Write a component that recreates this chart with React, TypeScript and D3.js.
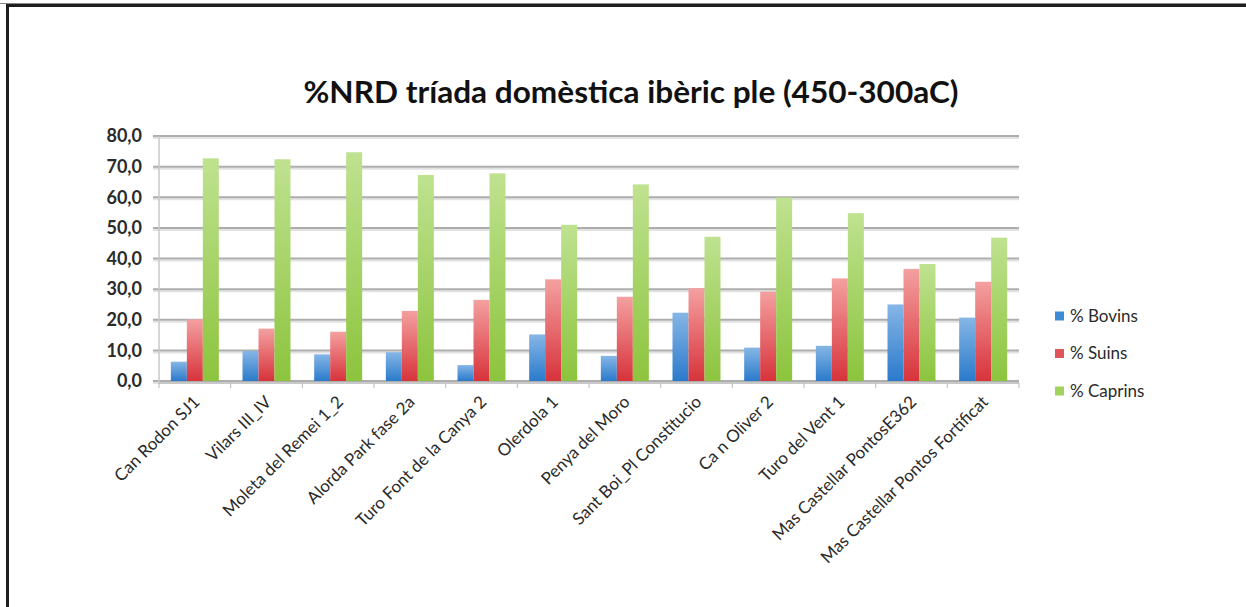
import React from "react";
import * as d3 from "d3";

const categories = [
  "Can Rodon SJ1",
  "Vilars III_IV",
  "Moleta del Remei 1_2",
  "Alorda Park fase 2a",
  "Turo Font de la Canya 2",
  "Olerdola 1",
  "Penya del Moro",
  "Sant Boi_Pl Constitucio",
  "Ca n Oliver 2",
  "Turo del Vent 1",
  "Mas Castellar PontosE362",
  "Mas Castellar Pontos Fortificat",
];
const bovins = [6.3, 9.8, 8.7, 9.4, 5.2, 15.2, 8.2, 22.3, 10.9, 11.5, 25.0, 20.7];
const suins = [20.1, 17.1, 16.1, 22.9, 26.5, 33.2, 27.5, 30.3, 29.2, 33.5, 36.6, 32.4];
const caprins = [72.7, 72.4, 74.7, 67.3, 67.8, 51.0, 64.2, 47.1, 59.9, 54.8, 38.2, 46.8];
const seriesNames = ["% Bovins", "% Suins", "% Caprins"];
const yTicks = [0, 10, 20, 30, 40, 50, 60, 70, 80];
const title = "%NRD tríada domèstica ibèric ple (450-300aC)";

const seriesData = [bovins, suins, caprins];
const grads = [
  { id: "gB", top: "#86b6e6", bot: "#2a7acb", legend: "#3d8ad6" },
  { id: "gS", top: "#f4a0a0", bot: "#d7333b", legend: "#e0555c" },
  { id: "gC", top: "#bfe290", bot: "#8cc43d", legend: "#9fd35c" },
];

export default function App() {
  const W = 1246, H = 607;
  const left = 159, right = 1019, top = 136, bottom = 381;
  const x = d3.scaleBand<string>().domain(categories).range([left, right]).padding(0);
  const xi = d3.scaleBand<string>().domain(seriesNames).range([0, x.bandwidth()]).paddingInner(0).paddingOuter(0.74);
  const y = d3.scaleLinear().domain([0, 80]).range([bottom, top]);
  const fmt = (v: number) => v.toFixed(1).replace(".", ",");
  const font = "Lato, 'Open Sans', sans-serif";

  return (
    <svg width={W} height={H} style={{ position: "absolute", left: 0, top: 0, background: "#fff" }} fontFamily={font}>
      <defs>
        {grads.map((g) => (
          <linearGradient key={g.id} id={g.id} x1="0" y1="0" x2="0" y2="1">
            <stop offset="0%" stopColor={g.top} />
            <stop offset="100%" stopColor={g.bot} />
          </linearGradient>
        ))}
      </defs>
      <rect x={0} y={0} width={W} height={H} fill="#fff" />
      {/* frame */}
      <line x1={6} x2={W} y1={5.5} y2={5.5} stroke="#1e1e1e" strokeWidth={3} />
      <line x1={0} x2={W} y1={3.5} y2={3.5} stroke="#888" strokeWidth={1} />
      <line x1={7.5} x2={7.5} y1={4} y2={H} stroke="#1e1e1e" strokeWidth={3} />

      <text x={631} y={103} textAnchor="middle" fontSize={30} fontWeight={700} fill="#111" textLength={655} lengthAdjust="spacingAndGlyphs">
        {title}
      </text>

      {/* gridlines */}
      {yTicks.map((t) => (
        <g key={t}>
          <line x1={left - 6} x2={right} y1={y(t) + 2} y2={y(t) + 2} stroke="#e2e2e2" strokeWidth={2} />
          <line x1={left - 6} x2={right} y1={y(t)} y2={y(t)} stroke="#adadad" strokeWidth={2} />
          <text x={142} y={y(t)} dy="0.35em" textAnchor="end" fontSize={18} fontWeight={700} fill="#2a2a2a">
            {fmt(t)}
          </text>
        </g>
      ))}
      <line x1={left} x2={left} y1={top} y2={bottom + 3} stroke="#c8c8c8" strokeWidth={1.5} />

      {/* bars */}
      {categories.map((c, i) => (
        <g key={c}>
          {seriesNames.map((s, j) => {
            const v = seriesData[j][i];
            return (
              <rect
                key={s}
                x={(x(c) as number) + (xi(s) as number)}
                y={y(v)}
                width={xi.bandwidth()}
                height={y(0) - y(v)}
                fill={`url(#${grads[j].id})`}
              />
            );
          })}
        </g>
      ))}

      {/* x axis */}
      <line x1={left} x2={right} y1={bottom + 2} y2={bottom + 2} stroke="#c8c8c8" strokeWidth={2} />
      {categories.concat([""]).map((c, i) => {
        const xx = left + i * x.step();
        return <line key={i} x1={xx} x2={xx} y1={bottom + 2} y2={bottom + 7} stroke="#b8b8b8" strokeWidth={1} />;
      })}
      {categories.map((c) => {
        const cx = (x(c) as number) + x.bandwidth() / 2;
        return (
          <text key={c} transform={`translate(${cx + 6},${403}) rotate(-45)`} textAnchor="end" fontSize={17} fill="#2a2a2a">
            {c}
          </text>
        );
      })}

      {/* legend */}
      {seriesNames.map((s, j) => (
        <g key={s} transform={`translate(1055,${316 + j * 37.5})`}>
          <rect x={0} y={-4.5} width={9} height={9} fill={grads[j].legend} />
          <text x={15} y={0} dy="0.35em" fontSize={17} fill="#2a2a2a">
            {s}
          </text>
        </g>
      ))}
    </svg>
  );
}
